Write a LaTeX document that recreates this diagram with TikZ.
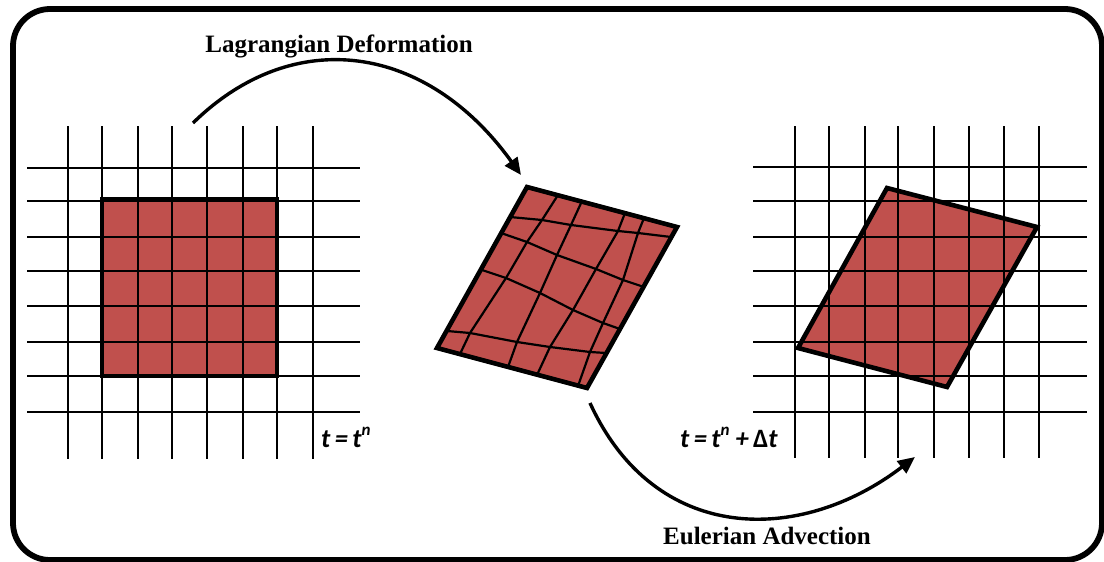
\documentclass[tikz,border=0pt]{standalone}
\usepackage{fontspec}
\setmainfont{Liberation Serif}
\newfontfamily\calfont{Carlito}
\usetikzlibrary{arrows.meta}
\definecolor{cellred}{HTML}{C0504D}
\tikzset{
  gridline/.style={line width=1.8pt, black},
  meshline/.style={line width=2.2pt, black, line join=round},
  outline/.style={line width=4.6pt, black, line join=miter},
  flowarrow/.style={line width=3.4pt, -{Triangle[length=17pt,width=15pt]}},
  title/.style={font=\fontsize{25}{28}\selectfont\bfseries, inner sep=0pt},
  timelabel/.style={font=\calfont\fontsize{26.5}{30}\selectfont\bfseries\itshape, inner sep=0pt}
}
\newcommand{\supn}{\raisebox{0.42em}{\fontsize{17}{20}\selectfont n}}
\begin{document}
\begin{tikzpicture}[x=1pt,y=-1pt]
\useasboundingbox (0,0) rectangle (1104,562);
% frame
\draw[line width=5.8pt, rounded corners=37pt] (13,9) rectangle (1102,560);

% ---------- left panel ----------
\fill[cellred] (102,199) rectangle (277,376);
\foreach \x in {68,102,138,172,207,243,277,313}
  \draw[gridline] (\x,126) -- (\x,459);
\foreach \y in {168,201,237,271,306,342,376,412}
  \draw[gridline] (27,\y) -- (360,\y);
\draw[outline] (102,199) rectangle (277,376);

% ---------- middle panel ----------
\coordinate (mT) at (527,187);
\coordinate (mR) at (677,227);
\coordinate (mB) at (587,388);
\coordinate (mL) at (437,348);
\fill[cellred] (mT) -- (mR) -- (mB) -- (mL) -- cycle;
% rows
\draw[meshline] (510,217) -- (542,220) -- (571,225) -- (618,231) -- (638,233) -- (671,237);
\draw[meshline] (501,233) -- (527,242) -- (557,255) -- (596,269) -- (623,280) -- (644,287);
\draw[meshline] (482,270) -- (506,278) -- (540,293) -- (573,310) -- (603,323) -- (620,329);
\draw[meshline] (447,331) -- (470,333) -- (517,342) -- (550,347) -- (590,352) -- (606,353);
% columns
\draw[meshline] (558,195) -- (542,220) -- (527,242) -- (506,278) -- (470,333) -- (460,354);
\draw[meshline] (582,201) -- (571,225) -- (557,255) -- (540,293) -- (517,342) -- (508,367);
\draw[meshline] (625,213) -- (618,231) -- (596,269) -- (573,310) -- (550,347) -- (537,375);
\draw[meshline] (644,218) -- (638,233) -- (623,280) -- (603,323) -- (590,352) -- (578,386);
\draw[outline] (mT) -- (mR) -- (mB) -- (mL) -- cycle;

% ---------- right panel ----------
\coordinate (rT) at (887,188);
\coordinate (rR) at (1037,227);
\coordinate (rB) at (947,387);
\coordinate (rL) at (798,348);
\fill[cellred] (rT) -- (rR) -- (rB) -- (rL) -- cycle;
\foreach \x in {795,829,865,898,934,969,1004,1039}
  \draw[gridline] (\x,126) -- (\x,458);
\foreach \y in {167,201,237,271,306,342,376,412}
  \draw[gridline] (753,\y) -- (1087,\y);
\draw[outline] (rT) -- (rR) -- (rB) -- (rL) -- cycle;

% ---------- arrows ----------
\coordinate (lagS) at (193,123);
\coordinate (lagE) at (521,175);
\coordinate (eulS) at (590,403);
\coordinate (eulE) at (915,457);
\draw[flowarrow] (lagS) .. controls (294,24) and (427,44) .. (lagE);
\draw[flowarrow] (eulS) .. controls (655,545) and (800,545) .. (eulE);

% ---------- labels ----------
\node[title, anchor=base] (lagtxt) at (339,52) {Lagrangian Deformation};
\node[title, anchor=base] (eultxt) at (767,544) {Eulerian Advection};
\node[timelabel, anchor=base west] (t1) at (321,447) {t\,=\,t\supn};
\node[timelabel, anchor=base west] (t2) at (680,447) {t\,=\,t\supn\ +\,{\upshape Δ}t};
\end{tikzpicture}
\end{document}
